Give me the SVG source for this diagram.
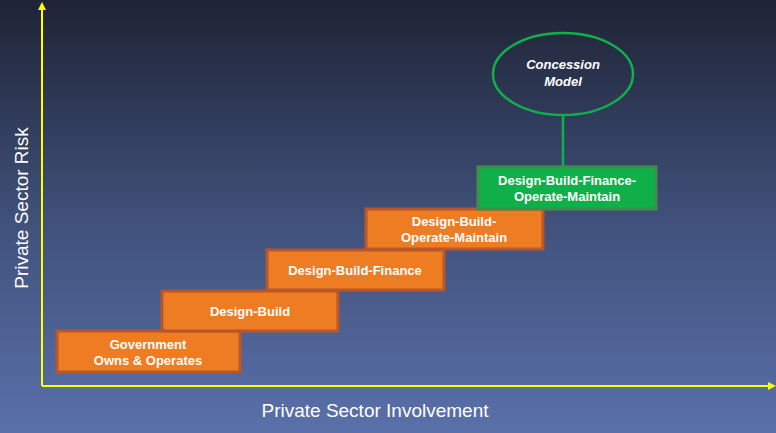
<svg xmlns="http://www.w3.org/2000/svg" width="776" height="433" viewBox="0 0 776 433">
<defs>
<linearGradient id="bg" x1="0" y1="0" x2="0" y2="1">
<stop offset="0" stop-color="#1f2335"/><stop offset="0.5" stop-color="#3f5079"/><stop offset="1" stop-color="#5a70aa"/>
</linearGradient>
<marker id="ah" markerWidth="8" markerHeight="8" refX="4" refY="4" orient="auto" markerUnits="userSpaceOnUse"><path d="M0,0 L8,4 L0,8 Z" fill="#ffff00"/></marker>
<style>
.o{fill:#ee7c22;stroke:#b9562a;stroke-width:3}
.g{fill:#0fb04a;stroke:#3e8f4a;stroke-width:3}
.t{font-family:"Liberation Sans",Arial,sans-serif;font-weight:bold;font-size:13px;fill:#fff;text-anchor:middle}
.ax{font-family:"Liberation Sans",Arial,sans-serif;font-size:19px;fill:#fff;text-anchor:middle}
</style>
</defs>
<rect width="776" height="433" fill="url(#bg)"/>
<g id="connectors">
<path d="M42,386 V6" stroke="#ffff00" stroke-width="2" fill="none" marker-end="url(#ah)"/>
<path d="M42,386 H772" stroke="#ffff00" stroke-width="2" fill="none" marker-end="url(#ah)"/>
<line x1="563" y1="115" x2="563" y2="168" stroke="#0fb04a" stroke-width="2.5"/>
</g>
<text class="ax" transform="translate(28,208) rotate(-90)">Private Sector Risk</text>
<text class="ax" x="375" y="417">Private Sector Involvement</text>
<g id="gov"><rect class="o" x="57" y="331" width="183" height="41"/><text class="t" x="148" y="349">Government</text><text class="t" x="148" y="365">Owns &amp; Operates</text></g>
<g id="db"><rect class="o" x="162" y="291" width="176" height="40"/><text class="t" x="250" y="316">Design-Build</text></g>
<g id="dbf"><rect class="o" x="267" y="250" width="177" height="40"/><text class="t" x="355" y="275">Design-Build-Finance</text></g>
<g id="dbom"><rect class="o" x="366" y="209" width="177" height="40"/><text class="t" x="454" y="226">Design-Build-</text><text class="t" x="454" y="242">Operate-Maintain</text></g>
<g id="dbfom"><rect class="g" x="478" y="167" width="178" height="42"/><text class="t" x="567" y="185">Design-Build-Finance-</text><text class="t" x="567" y="201">Operate-Maintain</text></g>
<g id="concession"><ellipse cx="563" cy="74" rx="70" ry="41" fill="none" stroke="#0fb04a" stroke-width="2.5"/><text class="t" x="563" y="69" font-style="italic">Concession</text><text class="t" x="563" y="86" font-style="italic">Model</text></g>
</svg>
